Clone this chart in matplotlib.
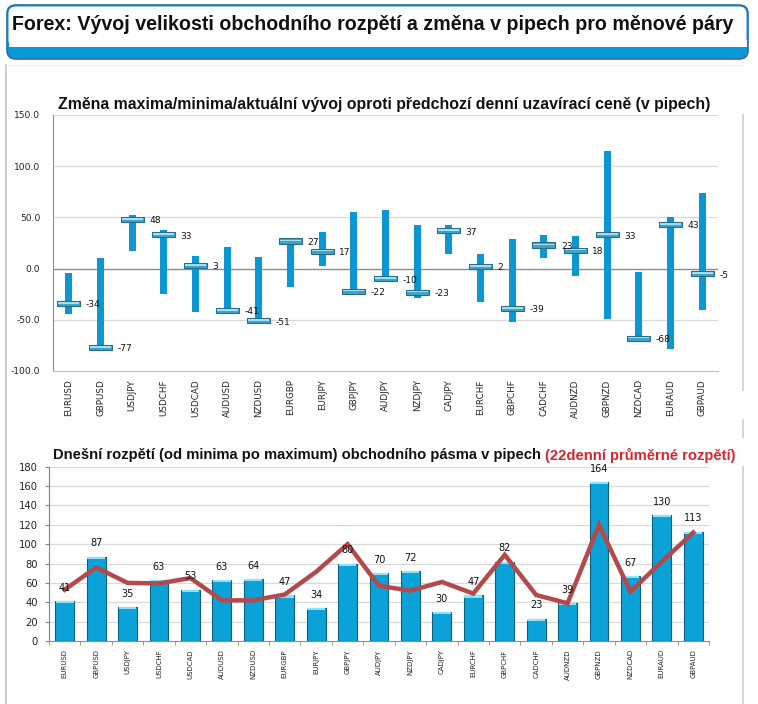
import matplotlib
matplotlib.use("Agg")
import matplotlib.pyplot as plt
from matplotlib.patches import FancyBboxPatch, Rectangle
from matplotlib.lines import Line2D
import numpy as np

pairs = ["EURUSD", "GBPUSD", "USDJPY", "USDCHF", "USDCAD", "AUDUSD", "NZDUSD",
         "EURGBP", "EURJPY", "GBPJPY", "AUDJPY", "NZDJPY", "CADJPY", "EURCHF",
         "GBPCHF", "CADCHF", "AUDNZD", "GBPNZD", "NZDCAD", "EURAUD", "GBPAUD"]

# change vs previous close (pips)
chg_max = [-4, 10, 52, 38, 12, 21, 11, 27, 36, 55, 57, 43, 43, 14, 29, 33, 32, 115, -3, 50, 74]
chg_min = [-44, -78, 17, -25, -42, -41, -51, -18, 3, -22, -12, -29, 14, -33, -52, 10, -7, -49, -68, -79, -40]
chg_now = [-34, -77, 48, 33, 3, -41, -51, 27, 17, -22, -10, -23, 37, 2, -39, 23, 18, 33, -68, 43, -5]

# today's range and 22-day average range
rng_today = [41, 87, 35, 63, 53, 63, 64, 47, 34, 80, 70, 72, 30, 47, 82, 23, 39, 164, 67, 130, 113]
rng_avg22 = [53, 76, 60, 59.5, 65, 42, 42, 48, 71.5, 100, 57, 52, 61, 49, 89, 47.5, 39, 120, 51, 82, 112]

W, H = 758, 704
fig = plt.figure(figsize=(W / 100, H / 100), dpi=100)
fig.patch.set_facecolor("white")

def fx(px):
    return px / W

def fy(py):
    return 1 - py / H

# ---- header box ----
hdr = FancyBboxPatch((fx(7), fy(59)), fx(741), fy(5) - fy(59),
                     boxstyle="round,pad=0,rounding_size=0.012",
                     transform=fig.transFigure, facecolor="#0a97d6",
                     edgecolor="#2f6fa8", linewidth=1.2, zorder=1)
fig.patches.append(hdr)
hdr_w = FancyBboxPatch((fx(8.5), fy(47)), fx(738), fy(6.5) - fy(47),
                       boxstyle="round,pad=0,rounding_size=0.01",
                       transform=fig.transFigure, facecolor="white",
                       edgecolor="none", zorder=2)
fig.patches.append(hdr_w)
fig.patches.append(Rectangle((fx(8.5), fy(47)), fx(738), fy(40) - fy(47),
                             transform=fig.transFigure, facecolor="white",
                             edgecolor="none", zorder=2))
fig.text(fx(12), fy(25), "Forex: Vývoj velikosti obchodního rozpětí a změna v pipech pro měnové páry",
         fontsize=14.1, fontweight="bold", family="Liberation Sans", ha="left", va="center",
         color="#111111", zorder=3)

# panel border lines
fig.add_artist(Line2D([fx(6), fx(6)], [fy(65), fy(704)], transform=fig.transFigure,
                      color="#cccccc", lw=1.5))
fig.add_artist(Line2D([fx(743), fx(743)], [fy(115), fy(390)], transform=fig.transFigure,
                      color="#d0d0d0", lw=1.2))
fig.add_artist(Line2D([fx(743), fx(743)], [fy(420), fy(437)], transform=fig.transFigure,
                      color="#d0d0d0", lw=1.2))
fig.add_artist(Line2D([fx(743), fx(743)], [fy(467), fy(704)], transform=fig.transFigure,
                      color="#d0d0d0", lw=1.2))
fig.add_artist(Line2D([fx(6), fx(743)], [fy(65), fy(65)], transform=fig.transFigure,
                      color="#eeeeee", lw=1.0))

x = np.arange(len(pairs))

# ---- top chart ----
ax1 = fig.add_axes([fx(53), fy(371), fx(718 - 53), fy(115) - fy(371)])
ax1.set_xlim(-0.5, len(pairs) - 0.5)
ax1.set_ylim(-100, 150)
ax1.set_yticks([-100, -50, 0, 50, 100, 150])
ax1.set_yticklabels(["-100.0", "-50.0", "0.0", "50.0", "100.0", "150.0"])
for v in [-50, 50, 100, 150]:
    ax1.axhline(v, color="#d9d9d9", lw=0.9, zorder=0)
ax1.axhline(0, color="#8c8c8c", lw=1.0, zorder=1)
for s in ["top", "right"]:
    ax1.spines[s].set_visible(False)
ax1.spines["left"].set_color("#8c8c8c")
ax1.spines["bottom"].set_color("#bfbfbf")
ax1.tick_params(axis="y", length=0, pad=9, labelsize=6.6, colors="#222222")
ax1.tick_params(axis="x", length=0, pad=6, labelsize=6.3, colors="#222222")
ax1.set_xticks(x)
ax1.set_xticklabels(pairs, rotation=90)

lo = np.array(chg_min, float)
hi = np.array(chg_max, float)
now = np.array(chg_now, float)
ax1.bar(x, hi - lo, bottom=lo, width=0.22, color="#0a97d4", edgecolor="none", zorder=2)
ax1.bar(x, 5, bottom=now - 2.5, width=0.72, color="#3aa6cf", edgecolor="#2b6c86",
        linewidth=0.8, zorder=3)
ax1.bar(x, 1.6, bottom=now - 0.2, width=0.66, color="#a6dcef", edgecolor="none", zorder=4)
for xi, v in zip(x, chg_now):
    ax1.annotate(f"{v:d}", (xi + 0.36, v), xytext=(4, -1), textcoords="offset points",
                 ha="left", va="center", fontsize=6.6, color="#111111", zorder=5)
fig.text(fx(384.5), fy(104),
         "Změna maxima/minima/aktuální vývoj oproti předchozí denní uzavírací ceně (v pipech)",
         fontsize=11.4, fontweight="bold", family="Liberation Sans", color="#111111",
         ha="center", va="center")

# ---- bottom chart ----
ax2 = fig.add_axes([fx(49), fy(641), fx(709 - 49), fy(466.7) - fy(641)])
ax2.set_xlim(-0.5, len(pairs) - 0.5)
ax2.set_ylim(0, 180)
ax2.set_yticks(np.arange(0, 181, 20))
for v in np.arange(20, 181, 20):
    ax2.axhline(v, color="#d9d9d9", lw=0.9, zorder=0)
for s in ["top", "right"]:
    ax2.spines[s].set_visible(False)
ax2.spines["left"].set_color("#6f86a6")
ax2.spines["bottom"].set_color("#8c8c8c")
ax2.tick_params(axis="y", length=3, direction="out", pad=5, labelsize=7.2, colors="#222222")
ax2.tick_params(axis="y", which="major", color="#6f86a6")
ax2.set_xticks(x)
ax2.set_xticklabels(pairs, rotation=90)
ax2.set_xticks(np.arange(-0.5, len(pairs), 1), minor=True)
ax2.tick_params(axis="x", which="major", length=0, pad=6, labelsize=5.0, colors="#222222")
ax2.tick_params(axis="x", which="minor", length=3, color="#8c8c8c")

rt = np.array(rng_today, float)
ax2.bar(x, rt, width=0.6, color="#0ba2d8", edgecolor="#0b5f80", linewidth=0.8, zorder=2)
ax2.bar(x, 2.2, bottom=rt - 2.2, width=0.56, color="#8fe3f6", edgecolor="none", zorder=3)
ax2.plot(x, rng_avg22, color="#b5484a", lw=3.2, solid_joinstyle="miter", zorder=4)
for xi, v in zip(x, rng_today):
    ax2.annotate(f"{v:d}", (xi, v), xytext=(0, 6), textcoords="offset points",
                 ha="center", va="bottom", fontsize=7, color="#111111", zorder=5)

t1 = fig.text(fx(53), fy(455), "Dnešní rozpětí (od minima po maximum) obchodního pásma v pipech ",
              fontsize=10.65, fontweight="bold", family="Liberation Sans", color="#111111",
              ha="left", va="center")
fig.canvas.draw()
bb = t1.get_window_extent()
fig.text(bb.x1 / W, fy(455), "(22denní průměrné rozpětí)", fontsize=10.65, fontweight="bold",
         family="Liberation Sans", color="#d9262e", ha="left", va="center")

fig.savefig("out.png", dpi=100, facecolor="white")
